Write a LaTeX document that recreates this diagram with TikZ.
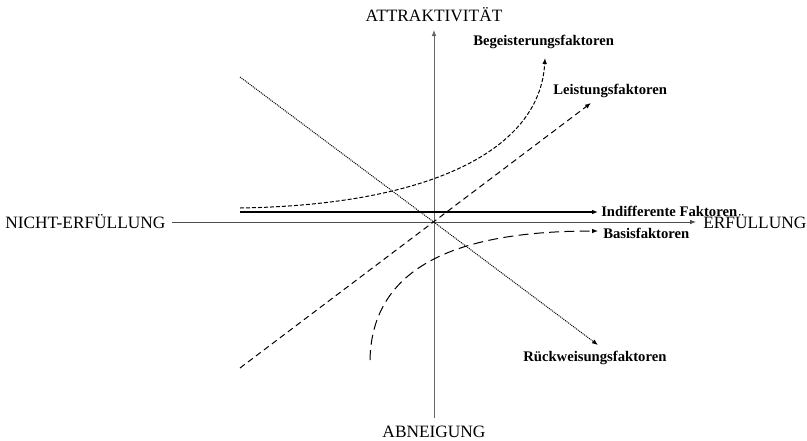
\documentclass[tikz,border=0pt]{standalone}
\usepackage{fontspec}
\setmainfont{Liberation Serif}
\usetikzlibrary{arrows.meta}
\begin{document}
\begin{tikzpicture}[x=0.75pt,y=-0.75pt,
  axis/.style={draw=black!60,line width=0.6pt},
  curve/.style={draw=black,line width=0.75pt,-{Latex[length=4.5pt,width=3.5pt]}},
  axlabel/.style={font=\fontsize{13}{15}\selectfont,inner sep=0pt},
  lbl/.style={font=\fontsize{11}{13}\selectfont\bfseries,inner sep=0pt}]
\useasboundingbox (0,0) rectangle (807,440);
% axis labels
\node[axlabel] (att) at (434,15) {ATTRAKTIVITÄT};
\node[axlabel] (abn) at (434,432) {ABNEIGUNG};
\node[axlabel,anchor=west] (nicht) at (5,222) {NICHT-ERFÜLLUNG};
\node[axlabel,anchor=west] (erf) at (703,222) {ERFÜLLUNG};
% axes
\coordinate (vtop) at (434,30);
\coordinate (vbot) at (434,418);
\coordinate (hleft) at (172,222);
\coordinate (hright) at (696,222);
\draw[axis,-{Latex[length=4.5pt,width=3.5pt]}] (vbot) -- (vtop);
\draw[axis,draw=black!70,-{Latex[length=4.5pt,width=3.5pt]}] (hleft) -- (hright);
% factor labels
\node[lbl,anchor=west] (beg) at (473,42) {Begeisterungsfaktoren};
\node[lbl,anchor=west] (lei) at (553,91) {Leistungsfaktoren};
\node[lbl,anchor=west] (ind) at (601,211) {Indifferente Faktoren};
\node[lbl,anchor=west] (bas) at (603,233) {Basisfaktoren};
\node[lbl,anchor=west] (rue) at (523,358) {Rückweisungsfaktoren};
% curves
\coordinate (b0) at (240,208);
\coordinate (b1) at (545,58);
\draw[curve,dash pattern=on 3pt off 1.5pt] (b0) .. controls (430,205) and (540,150) .. (b1);
\coordinate (l0) at (240,368);
\coordinate (l1) at (591,103);
\draw[curve,dash pattern=on 4.5pt off 3pt] (l0) -- (l1);
\coordinate (i0) at (240,212);
\coordinate (i1) at (598,212);
\draw[curve,line width=0.9pt] (i0) -- (i1);
\coordinate (s0) at (370,360);
\coordinate (s1) at (598,231);
\draw[curve,dash pattern=on 7.5pt off 4pt] (s0) .. controls (372,255) and (480,231) .. (s1);
\coordinate (r0) at (240,77);
\coordinate (r1) at (598,345);
\draw[curve,dash pattern=on 0.75pt off 0.75pt] (r0) -- (r1);
\end{tikzpicture}
\end{document}
